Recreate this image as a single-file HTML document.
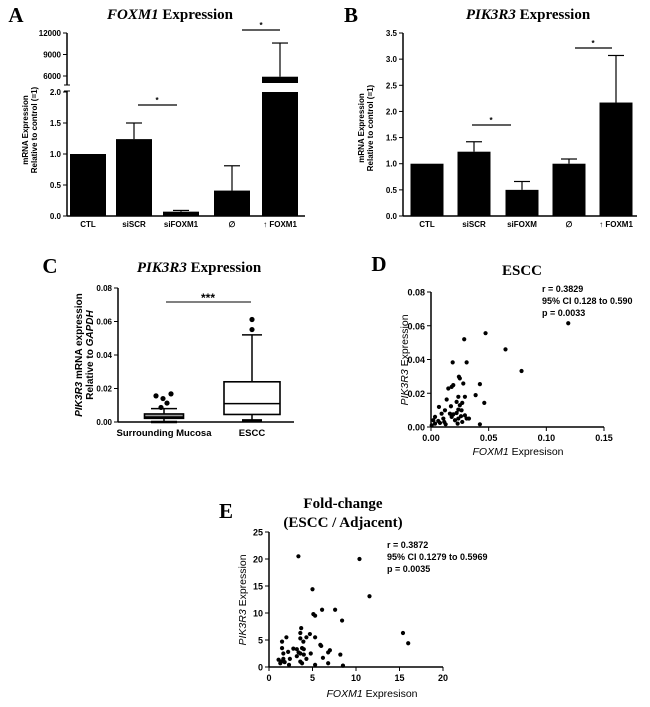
<!DOCTYPE html>
<html><head><meta charset="utf-8"><style>
html,body{margin:0;padding:0;background:#fff;}
svg{display:block;font-family:"Liberation Sans",Arial,sans-serif;}
.t{font-size:8px;font-weight:bold;}
.ttl{font-family:"Liberation Serif",serif;font-weight:bold;font-size:15px;}
.lab{font-family:"Liberation Serif",serif;font-weight:bold;font-size:21px;}
.st{font-size:9px;font-weight:bold;}
</style></head><body>
<svg id="fig" width="650" height="707" viewBox="0 0 650 707">
<g id="A"></g>
<g id="B"></g>
<g id="C"></g>
<g id="D"></g>
<g id="E"></g>
</svg>
<script>
// ---- Panel A data
const aCats = ["CTL","siSCR","siFOXM1","\u2205","\u2191 FOXM1"];
const aVals = [1.0, 1.24, 0.07, 0.41, 5900];
const aErr = [1.0, 1.5, 0.09, 0.81, 10600];
const aLowTicks = ["0.0","0.5","1.0","1.5","2.0"];
const aHighTicks = ["6000","9000","12000"];
// ---- Panel B data
const bCats = ["CTL","siSCR","siFOXM","\u2205","\u2191 FOXM1"];
const bVals = [1.0, 1.23, 0.5, 1.0, 2.17];
const bErr = [1.0, 1.42, 0.66, 1.09, 3.07];
const bTicks = ["0.0","0.5","1.0","1.5","2.0","2.5","3.0","3.5"];
// ---- Panel C data
const cCats = ["Surrounding Mucosa","ESCC"];
const cMin = [0.0, 0.001];
const cQ1 = [0.0022, 0.0045];
const cMed = [0.003, 0.011];
const cQ3 = [0.0048, 0.024];
const cMax = [0.008, 0.052];
const cOutGroup = [0,0,0,0,0,1,1];
const cOutVal = [0.0156,0.014,0.0168,0.0113,0.0087,0.0612,0.0552];
const cOutJit = [-8,-1,7,3,-3,0,0];
const cTicks = ["0.00","0.02","0.04","0.06","0.08"];
// ---- Panel D data
const dX = [0.119,0.0473,0.0288,0.0646,0.0785,0.0188,0.0309,0.0242,0.025,0.028,0.0193,0.0179,0.015,0.0424,0.0387,0.0237,0.0294,0.0136,0.0222,0.0271,0.0462,0.0069,0.0173,0.025,0.0121,0.0237,0.0265,0.0092,0.0164,0.0193,0.0222,0.026,0.0294,0.0035,0.0107,0.0237,0.0309,0.0329,0.002,0.0063,0.0115,0.0271,0.0035,0.0127,0.0231,0.0424,0.0006,0.0078,0.0208,0.0179];
const dY = [0.0615,0.0556,0.052,0.046,0.0332,0.0383,0.0383,0.0298,0.0288,0.0258,0.0248,0.0238,0.0228,0.0254,0.0189,0.0179,0.0179,0.0163,0.0149,0.0143,0.0143,0.0119,0.0123,0.0129,0.0099,0.0103,0.0099,0.0079,0.0079,0.0075,0.0083,0.0064,0.0069,0.006,0.005,0.005,0.005,0.005,0.004,0.0036,0.003,0.003,0.002,0.0016,0.002,0.0016,0.001,0.0024,0.004,0.006];
const dXTicks = ["0.00","0.05","0.10","0.15"];
const dYTicks = ["0.00","0.02","0.04","0.06","0.08"];
// ---- Panel E data
const eX = [3.38,10.4,11.55,5.0,5.1,5.3,6.1,7.6,8.4,15.4,16.0,3.7,3.6,4.7,4.3,5.3,2.0,1.5,3.6,3.95,5.9,6.0,2.8,3.2,1.5,3.8,4.0,7.0,6.8,2.2,3.4,3.6,4.8,1.65,8.2,3.2,4.0,1.1,1.65,2.4,4.3,6.2,3.6,1.4,1.8,1.3,3.8,6.8,2.3,5.3,8.5];
const eY = [20.5,20.0,13.1,14.4,9.8,9.5,10.6,10.6,8.6,6.3,4.4,7.2,6.3,6.1,5.5,5.5,5.5,4.7,5.3,4.7,4.1,3.9,3.4,3.3,3.5,3.5,3.3,3.1,2.7,2.8,2.7,2.5,2.5,2.5,2.3,2.0,2.3,1.35,1.5,1.5,1.5,1.7,1.0,1.0,0.9,0.7,0.7,0.7,0.4,0.4,0.25];
const eXTicks = ["0","5","10","15","20"];
const eYTicks = ["0","5","10","15","20","25"];

const NS="http://www.w3.org/2000/svg";
function mk(parent,tag,attrs,text){const e=document.createElementNS(NS,tag);for(const k in attrs)e.setAttribute(k,attrs[k]);if(text!==undefined)e.textContent=text;parent.appendChild(e);return e;}
function line(p,x1,y1,x2,y2,w){return mk(p,"line",{x1,y1,x2,y2,stroke:"#000","stroke-width":w||1.5});}
function txt(p,x,y,s,cls,anchor){return mk(p,"text",{x,y,class:cls||"t","text-anchor":anchor||"middle"},s);}

// ===== Panel A
(function(){
const g=document.getElementById("A");
let e=txt(g,16,22,"A","lab");


e=mk(g,"text",{x:170,y:19,class:"ttl","text-anchor":"middle"});
e.innerHTML='<tspan font-style="italic">FOXM1</tspan> Expression';


const x0=67,yb=216,yt=92; const yl=v=>yb-(v/2)*(yb-yt);
const yh=v=>76-(v-6000)/3000*21.5;
line(g,x0,yt-1,x0,yb); line(g,x0,33,x0,85); line(g,x0-3,85,x0+3,85,1); line(g,x0-3,91,x0+3,91,1);
line(g,x0,yb,305,yb);
aLowTicks.forEach(s=>{const y=yl(+s);line(g,x0-4,y,x0,y,1);txt(g,x0-6,y+3,s,"t","end");});
aHighTicks.forEach(s=>{const y=yh(+s);line(g,x0-4,y,x0,y,1);txt(g,x0-6,y+3,s,"t","end");});
const cx=[88,134,181,232,280],bw=36;
aCats.forEach((c,i)=>{
 const lb=txt(g,cx[i],227,c);
 
 
 let bar,top,et;
 if(aVals[i]>2){
  bar=mk(g,"rect",{x:cx[i]-bw/2,y:yt,width:bw,height:yb-yt,fill:"#000"});
  top=yh(aVals[i]);mk(g,"rect",{x:cx[i]-bw/2,y:top,width:bw,height:83-top,fill:"#000"});
  et=yh(aErr[i]);
 } else {
  top=yl(aVals[i]);bar=mk(g,"rect",{x:cx[i]-bw/2,y:top,width:bw,height:yb-top,fill:"#000"});
  et=yl(aErr[i]);
 }
 
 
 if(et<top-0.5){line(g,cx[i],top,cx[i],et,1.2);line(g,cx[i]-8,et,cx[i]+8,et,1.2);}
});
line(g,138,105,177,105,1.2);txt(g,157,103,"*");
line(g,242,30,280,30,1.2);txt(g,261,28,"*");
e=mk(g,"text",{transform:"translate(28,130) rotate(-90)",class:"t","text-anchor":"middle"},"mRNA Expression");


mk(g,"text",{transform:"translate(37,130) rotate(-90)",class:"t","text-anchor":"middle"},"Relative to control (=1)");
})();

// ===== Panel B
(function(){
const g=document.getElementById("B");
let e=txt(g,351,22,"B","lab");


e=mk(g,"text",{x:528,y:19,class:"ttl","text-anchor":"middle"});
e.innerHTML='<tspan font-style="italic">PIK3R3</tspan> Expression';


const x0=403,yb=216,yt=33;const y=v=>yb-v/3.5*(yb-yt);
line(g,x0,yt,x0,yb);line(g,x0,yb,637,yb);
bTicks.forEach(s=>{const yy=y(+s);line(g,x0-4,yy,x0,yy,1);txt(g,x0-6,yy+3,s,"t","end");});
const cx=[427,474,522,569,616],bw=33;
bCats.forEach((c,i)=>{
 const lb=txt(g,cx[i],227,c);
 
 
 const top=y(bVals[i]);
 const bar=mk(g,"rect",{x:cx[i]-bw/2,y:top,width:bw,height:yb-top,fill:"#000"});
 
 
 const et=y(bErr[i]);
 if(et<top-0.5){line(g,cx[i],top,cx[i],et,1.2);line(g,cx[i]-8,et,cx[i]+8,et,1.2);}
});
line(g,472,125,511,125,1.2);txt(g,491,123,"*");
line(g,575,48,612,48,1.2);txt(g,593,46,"*");
e=mk(g,"text",{transform:"translate(364,128) rotate(-90)",class:"t","text-anchor":"middle"},"mRNA Expression");


mk(g,"text",{transform:"translate(373,128) rotate(-90)",class:"t","text-anchor":"middle"},"Relative to control (=1)");
})();

// ===== Panel C
(function(){
const g=document.getElementById("C");
let e=txt(g,50,273,"C","lab");


e=mk(g,"text",{x:199,y:272,class:"ttl","text-anchor":"middle"});
e.innerHTML='<tspan font-style="italic">PIK3R3</tspan> Expression';


const x0=118,yb=422,yt=288;const y=v=>yb-v/0.08*(yb-yt);
line(g,x0,yt,x0,yb);line(g,x0,yb,294,yb);
cTicks.forEach(s=>{const yy=y(+s);line(g,x0-4,yy,x0,yy,1);txt(g,x0-6,yy+3,s,"t","end");});
const cx=[164,252],bw=[39,56],cw=[26,20],fills=["#9a9a9a","#fff"];
cCats.forEach((c,i)=>{
 const lb=mk(g,"text",{x:cx[i],y:436,"text-anchor":"middle","font-size":"9.5","font-weight":"bold"},c);
 
 
 line(g,cx[i],y(cMax[i]),cx[i],y(cQ3[i]),1.5);
 line(g,cx[i],y(cQ1[i]),cx[i],y(cMin[i]),1.5);
 line(g,cx[i]-cw[i]/2,y(cMax[i]),cx[i]+cw[i]/2,y(cMax[i]),1.5);
 line(g,cx[i]-cw[i]/2,y(cMin[i]),cx[i]+cw[i]/2,y(cMin[i]),2.5);
 const b=mk(g,"rect",{x:cx[i]-bw[i]/2,y:y(cQ3[i]),width:bw[i],height:y(cQ1[i])-y(cQ3[i]),fill:fills[i],stroke:"#000","stroke-width":1.6});
 
 
 line(g,cx[i]-bw[i]/2,y(cMed[i]),cx[i]+bw[i]/2,y(cMed[i]),1.5);
});
cOutVal.forEach((v,i)=>{
 const d=mk(g,"circle",{cx:cx[cOutGroup[i]]+cOutJit[i],cy:y(v),r:2.6,fill:"#000"});
 
 
});
line(g,166,302,251,302,1);
e=mk(g,"text",{x:208,y:302,"text-anchor":"middle","font-size":"12","font-weight":"bold"},"***");


e=mk(g,"text",{transform:"translate(82,355) rotate(-90)","text-anchor":"middle","font-size":"10","font-weight":"bold"});
e.innerHTML='<tspan font-style="italic">PIK3R3</tspan> mRNA expression';


e=mk(g,"text",{transform:"translate(93,355) rotate(-90)","text-anchor":"middle","font-size":"10","font-weight":"bold"});
e.innerHTML='Relative to <tspan font-style="italic">GAPDH</tspan>';
})();

// ===== scatter helper
function scatter(g,prefix,X,Y,xMax,yMax,x0,x1,yb,yt,xTicks,yTicks){
 const sx=v=>x0+v/xMax*(x1-x0), sy=v=>yb-v/yMax*(yb-yt);
 line(g,x0,yt,x0,yb);line(g,x0,yb,x1,yb);
 yTicks.forEach(s=>{const yy=sy(+s);line(g,x0-4,yy,x0,yy,1);mk(g,"text",{x:x0-6,y:yy+3.5,"text-anchor":"end","font-size":"9","font-weight":"bold"},s);});
 xTicks.forEach(s=>{const xx=sx(+s);line(g,xx,yb,xx,yb+4,1);mk(g,"text",{x:xx,y:yb+14,"text-anchor":"middle","font-size":"9","font-weight":"bold"},s);});
 X.forEach((v,i)=>{
  const d=mk(g,"circle",{cx:sx(v),cy:sy(Y[i]),r:2.1,fill:"#000"});
  
  
 });
}

// ===== Panel D
(function(){
const g=document.getElementById("D");
let e=txt(g,379,271,"D","lab");


e=txt(g,522,275,"ESCC","ttl");


scatter(g,"d",dX,dY,0.15,0.08,431,604,427,292,dXTicks,dYTicks);
["r = 0.3829","95% CI 0.128 to 0.590","p = 0.0033"].forEach((s,i)=>{const t=txt(g,542,292+i*12,s,"st","start");});
e=mk(g,"text",{transform:"translate(408,360) rotate(-90)","text-anchor":"middle","font-size":"10.5"});
e.innerHTML='<tspan font-style="italic">PIK3R3</tspan> Expression';


e=mk(g,"text",{x:518,y:455,"text-anchor":"middle","font-size":"10.5"});
e.innerHTML='<tspan font-style="italic">FOXM1</tspan> Expresison';


})();

// ===== Panel E
(function(){
const g=document.getElementById("E");
let e=txt(g,226,518,"E","lab");


e=txt(g,343,508,"Fold-change","ttl");


txt(g,343,527,"(ESCC / Adjacent)","ttl");
scatter(g,"e",eX,eY,20,25,269,443,667,532,eXTicks,eYTicks);
["r = 0.3872","95% CI 0.1279 to 0.5969","p = 0.0035"].forEach((s,i)=>{const t=txt(g,387,548+i*12,s,"st","start");});
e=mk(g,"text",{transform:"translate(246,600) rotate(-90)","text-anchor":"middle","font-size":"10.5"});
e.innerHTML='<tspan font-style="italic">PIK3R3</tspan> Expression';


e=mk(g,"text",{x:372,y:697,"text-anchor":"middle","font-size":"10.5"});
e.innerHTML='<tspan font-style="italic">FOXM1</tspan> Expresison';


})();
</script>
</body></html>
